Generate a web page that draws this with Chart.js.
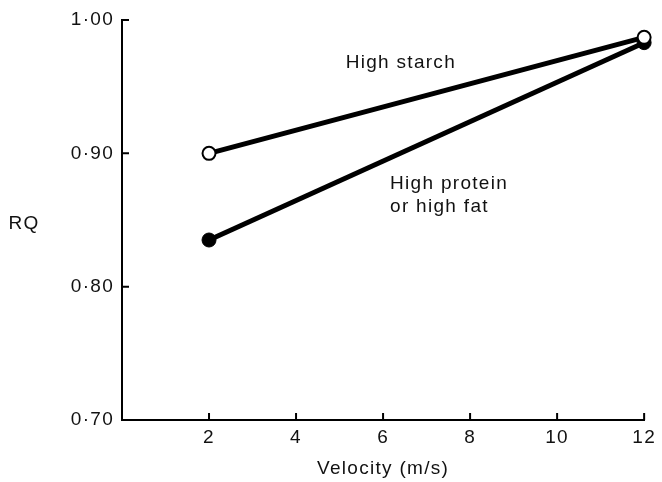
<!DOCTYPE html>
<html>
<head>
<meta charset="utf-8">
<script src="https://cdn.jsdelivr.net/npm/chart.js@4/dist/chart.umd.min.js"></script>
<style>
  html, body { margin: 0; padding: 0; background: #fff; }
  #box { width: 662px; height: 482px; }
</style>
</head>
<body>
<div id="box"><canvas id="rq"></canvas></div>
<script>
// Werte
var velocity = [2, 12];
var starchRQ = [0.900, 0.987];
var proteinFatRQ = [0.835, 0.983];
var xTicks = [2, 4, 6, 8, 10, 12];
var yTicks = [0.70, 0.80, 0.90, 1.00];

var FONT = "'Liberation Sans', Arial, sans-serif";
var SPACING = "1.3px";

function pts(ys) {
  var out = [];
  for (var i in velocity) {
    out.push({ x: velocity[i], y: ys[i] });
  }
  return out;
}

// Texte im Diagramm + Ticks nach innen
var extras = {
  id: "extras",
  beforeLayout: function (chart) { chart.ctx.letterSpacing = SPACING; },
  beforeDraw: function (chart) { chart.ctx.letterSpacing = SPACING; },
  afterDraw: function (chart) {
    var ctx = chart.ctx;
    var xs = chart.scales.x, ys = chart.scales.y;
    var a = chart.chartArea;
    ctx.save();
    ctx.strokeStyle = "#000";
    ctx.lineWidth = 2;
    ctx.beginPath();
    for (var i in xTicks) {
      var px = xs.getPixelForValue(xTicks[i]);
      ctx.moveTo(px, a.bottom);
      ctx.lineTo(px, a.bottom - 7);
    }
    for (var j in yTicks) {
      if (yTicks[j] == 0.70) continue;
      var py = ys.getPixelForValue(yTicks[j]);
      ctx.moveTo(a.left, py);
      ctx.lineTo(a.left + 7, py);
    }
    ctx.stroke();

    ctx.letterSpacing = SPACING;
    ctx.fillStyle = "#111";
    ctx.font = "19px " + FONT;
    ctx.textAlign = "left";
    ctx.textBaseline = "middle";
    ctx.fillText("High starch", xs.getPixelForValue(5.14), ys.getPixelForValue(0.968));
    ctx.fillText("High protein", xs.getPixelForValue(6.16), ys.getPixelForValue(0.877));
    ctx.fillText("or high fat", xs.getPixelForValue(6.16), ys.getPixelForValue(0.860));
    ctx.textAlign = "center";
    ctx.fillText("RQ", 24, ys.getPixelForValue(0.847));
    ctx.restore();
  }
};

var chartdata = {
  datasets: [
    {
      label: "High starch",
      data: pts(starchRQ),
      borderColor: "#000",
      borderWidth: 5,
      backgroundColor: "#fff",
      pointBorderColor: "#000",
      pointBackgroundColor: "#fff",
      pointBorderWidth: 2,
      pointRadius: 6.5,
      order: 1
    },
    {
      label: "High protein or high fat",
      data: pts(proteinFatRQ),
      borderColor: "#000",
      borderWidth: 5,
      pointBorderColor: "#000",
      pointBackgroundColor: "#000",
      pointBorderWidth: 1,
      pointRadius: 7,
      order: 2
    }
  ]
};

var myChart = new Chart(document.getElementById("rq"), {
  type: "line",
  data: chartdata,
  plugins: [extras],
  options: {
    responsive: true,
    maintainAspectRatio: false,
    animation: false,
    clip: false,
    layout: {
      padding: { top: 20, right: 12, bottom: 0, left: 0 }
    },
    plugins: {
      legend: { display: false },
      tooltip: { enabled: false }
    },
    scales: {
      x: {
        type: "linear",
        min: 0,
        max: 12,
        afterFit: function (s) { s.height = 62; },
        afterBuildTicks: function (s) {
          s.ticks = xTicks.map(function (v) { return { value: v }; });
        },
        grid: { display: true, drawOnChartArea: false, drawTicks: false },
        border: { display: true, color: "#000", width: 2 },
        ticks: {
          color: "#111",
          padding: 6,
          font: { family: FONT, size: 19 },
          maxRotation: 0,
          callback: function (v) { return String(v); }
        },
        title: {
          display: true,
          text: "Velocity (m/s)",
          color: "#111",
          font: { family: FONT, size: 19 },
          padding: { top: 4, bottom: 2 }
        }
      },
      y: {
        type: "linear",
        min: 0.70,
        max: 1.00,
        afterFit: function (s) { s.width = 122; },
        afterBuildTicks: function (s) {
          s.ticks = yTicks.map(function (v) { return { value: v }; });
        },
        grid: { display: true, drawOnChartArea: false, drawTicks: false },
        border: { display: true, color: "#000", width: 2 },
        ticks: {
          color: "#111",
          padding: 8,
          font: { family: FONT, size: 19 },
          callback: function (v) { return v.toFixed(2).replace(".", "\u00b7"); }
        }
      }
    }
  }
});
</script>
</body>
</html>
